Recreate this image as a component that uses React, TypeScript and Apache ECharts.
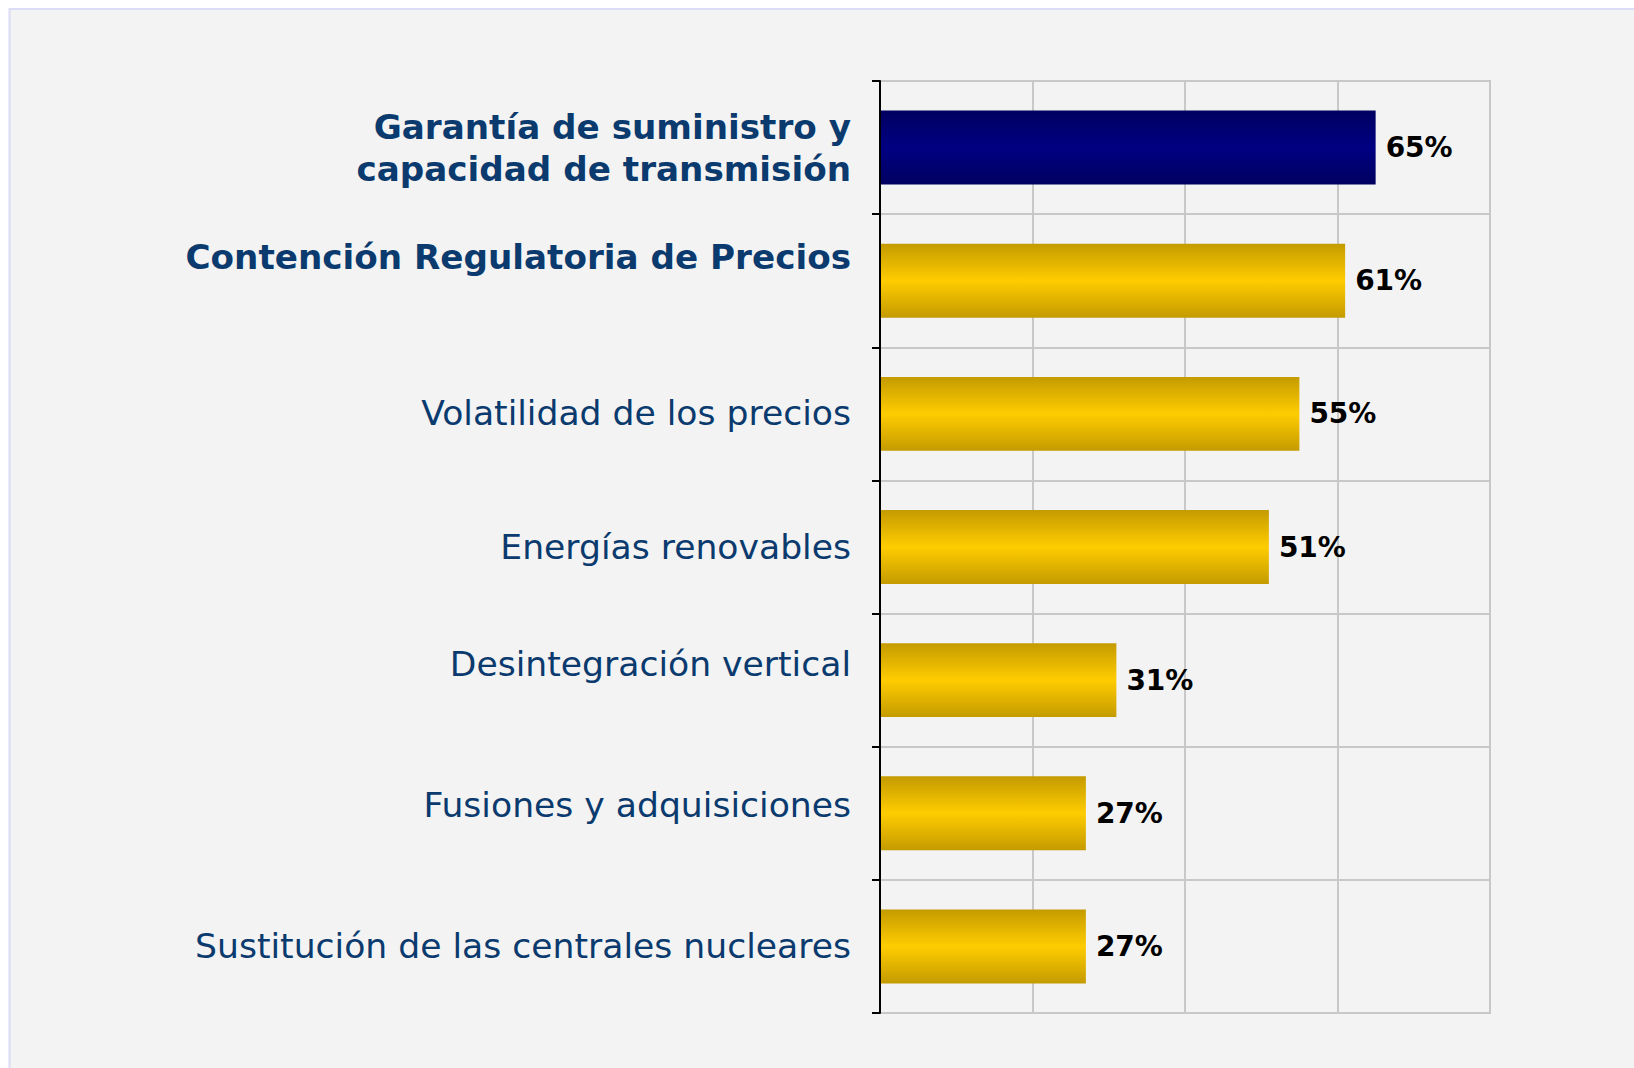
import React, { useEffect, useRef } from "react";
import * as echarts from "echarts";

const categories = [
  "Garantía de suministro y\ncapacidad de transmisión",
  "Contención Regulatoria de Precios",
  "Volatilidad de los precios",
  "Energías renovables",
  "Desintegración vertical",
  "Fusiones y adquisiciones",
  "Sustitución de las centrales nucleares",
];
const values = [65, 61, 55, 51, 31, 27, 27];
const highlighted = [true, true, false, false, false, false, false];
// vertical lift of each category label (px), as in the reference layout
const labelLift = [0, 24, 1, 0, 16, 8, 0];

const xMin = 0;
const xMax = 80;
const xInterval = 20;

const LABEL_COLOR = "#0a3a6e";
const FONT = "DejaVu Sans";

function barColor(isFirst: boolean) {
  if (isFirst) {
    return new echarts.graphic.LinearGradient(0, 0, 0, 1, [
      { offset: 0, color: "#000060" },
      { offset: 0.5, color: "#000082" },
      { offset: 1, color: "#000060" },
    ]);
  }
  return new echarts.graphic.LinearGradient(0, 0, 0, 1, [
    { offset: 0, color: "#c49b00" },
    { offset: 0.5, color: "#ffcc00" },
    { offset: 1, color: "#c49b00" },
  ]);
}

export default function App() {
  const ref = useRef<HTMLDivElement>(null);

  useEffect(() => {
    if (!ref.current) return;
    const chart = echarts.init(ref.current, null, { renderer: "svg" });

    const rich: Record<string, any> = {};
    categories.forEach((_, i) => {
      rich["r" + i] = {
        fontFamily: FONT,
        fontSize: highlighted[i] ? 34.2 : 34.6,
        fontWeight: highlighted[i] ? "bold" : "normal",
        color: LABEL_COLOR,
        lineHeight: 42,
        align: "right",
        padding: [0, 0, labelLift[i] * 2, 0],
      };
    });

    chart.setOption({
      animation: false,
      backgroundColor: "#ffffff",
      graphic: [
        {
          type: "rect",
          z: -10,
          shape: { x: 9.5, y: 9, width: 1640, height: 1080 },
          style: { fill: "#f3f3f3", stroke: "#dcdcf6", lineWidth: 2 },
          silent: true,
        },
      ],
      grid: {
        left: 880,
        right: 144,
        top: 81,
        bottom: 55,
        show: true,
        borderColor: "#c8c8c8",
        borderWidth: 2,
        backgroundColor: "transparent",
      },
      xAxis: {
        type: "value",
        min: xMin,
        max: xMax,
        interval: xInterval,
        axisLabel: { show: false },
        axisTick: { show: false },
        axisLine: { show: false },
        splitLine: { show: true, lineStyle: { color: "#c8c8c8", width: 2 } },
      },
      yAxis: {
        type: "category",
        inverse: true,
        data: categories,
        axisLine: { show: true, lineStyle: { color: "#000000", width: 2 } },
        axisTick: { show: true, length: 8, lineStyle: { color: "#000000", width: 2 } },
        splitLine: { show: true, lineStyle: { color: "#c8c8c8", width: 2 } },
        axisLabel: {
          margin: 29,
          formatter: (value: string, index: number) =>
            value
              .split("\n")
              .map((line) => `{r${index}|${line}}`)
              .join("\n"),
          rich,
        },
        z: 5,
      },
      series: [
        {
          type: "bar",
          barWidth: "55.5%",
          data: values.map((v, i) => ({
            value: v,
            itemStyle: { color: barColor(i === 0) },
          })),
          label: {
            show: true,
            position: "right",
            distance: 10,
            formatter: "{c}%",
            color: "#000000",
            fontFamily: FONT,
            fontSize: 28,
            fontWeight: "bold",
          },
          z: 2,
        },
      ],
    });

    return () => chart.dispose();
  }, []);

  return (
    <div
      ref={ref}
      style={{ position: "absolute", left: 0, top: 0, width: 1634, height: 1068 }}
    />
  );
}
